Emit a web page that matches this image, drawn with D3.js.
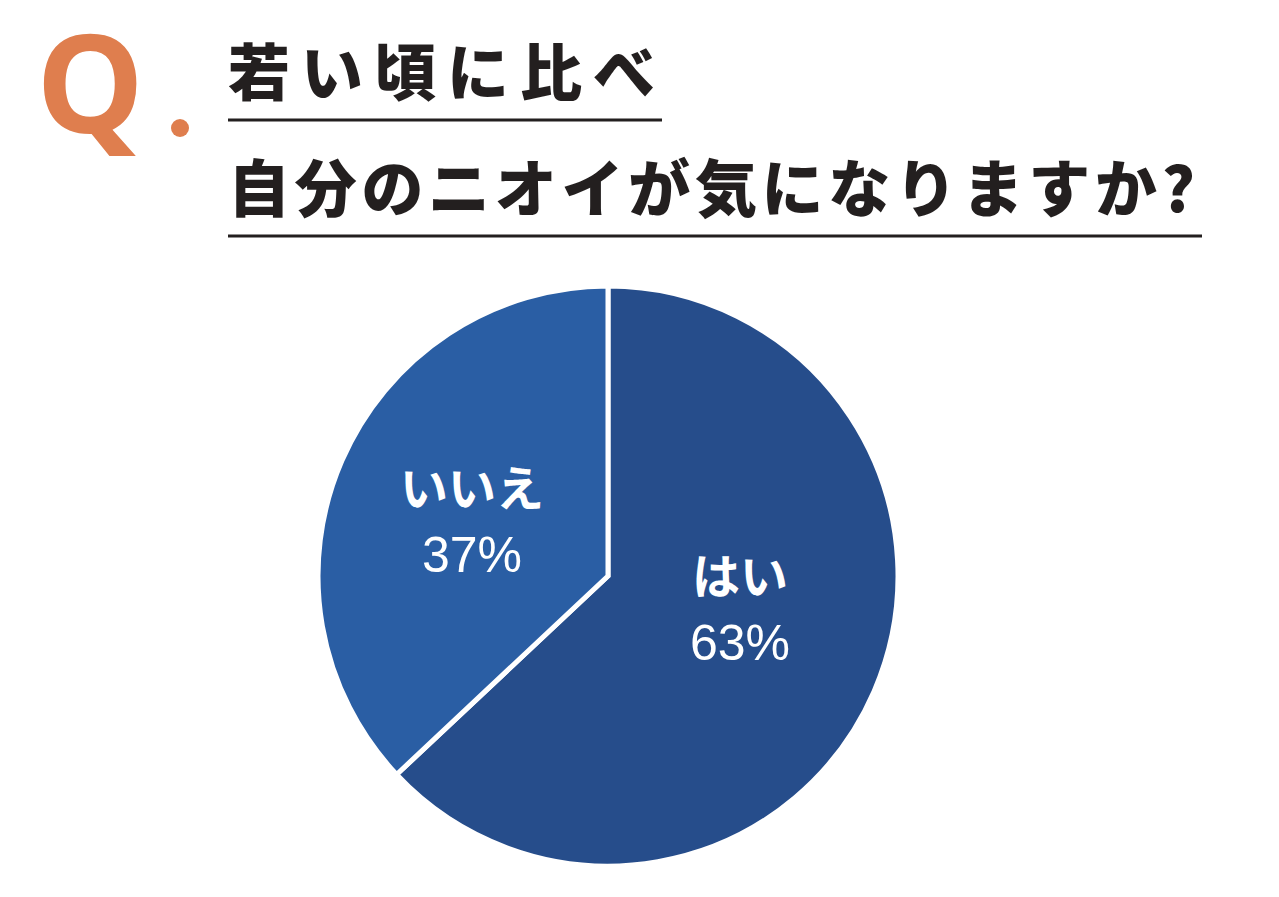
<!DOCTYPE html>
<html><head><meta charset="utf-8">
<script src="https://cdn.jsdelivr.net/npm/d3@7"></script>
<style>body{margin:0;background:#fff}</style>
</head><body>
<svg id="c" width="1279" height="897"></svg>
<script>
var labels = ['はい', 'いいえ'],
    values = [63, 37],
    colors = ['#264d8b', '#2a5ea4'],
    titleLines = ['若い頃に比べ', '自分のニオイが気になりますか?'];

var svg = d3.select('#c'),
    font = '"Noto Sans CJK JP", "Noto Sans", sans-serif';

// header
svg.append('text').attr('x', 36).attr('y', 133)
    .attr('font-family', '"Open Sans", sans-serif').attr('font-weight', 700).attr('font-size', 136)
    .attr('fill', '#df7e4e').text('Q');
svg.append('circle').attr('cx', 180).attr('cy', 128).attr('r', 9).attr('fill', '#df7e4e');

var lineEnds = [662, 1202];
titleLines.forEach(function (t, i) {
    svg.append('text').attr('x', 228).attr('y', 96 + i * 116)
        .attr('font-family', font).attr('font-weight', 900).attr('font-size', 62)
        .attr('letter-spacing', 3)
        .attr('textLength', i ? 970 : 430).attr('lengthAdjust', 'spacing')
        .attr('fill', '#231f1f').text(t);
    svg.append('line').attr('x1', 228).attr('x2', lineEnds[i])
        .attr('y1', 120 + i * 116).attr('y2', 120 + i * 116)
        .attr('stroke', '#231f1f').attr('stroke-width', 3);
});

// pie
var r = 290;
var g = svg.append('g').attr('transform', 'translate(608,576)');
var arcs = d3.pie().sort(null)(values);
var arc = d3.arc().innerRadius(0).outerRadius(r);

g.selectAll('path').data(arcs).enter().append('path')
    .attr('d', arc)
    .attr('fill', function (d, i) { return colors[i]; })
    .attr('stroke', '#fff').attr('stroke-width', 5).attr('stroke-linejoin', 'miter');

var labelPos = [[132, 18], [-136, -70]];
arcs.forEach(function (d, i) {
    var t = g.append('text').attr('text-anchor', 'middle')
        .attr('font-family', font).attr('font-weight', 700).attr('font-size', 48)
        .attr('fill', '#fff');
    t.append('tspan').attr('x', labelPos[i][0]).attr('y', labelPos[i][1]).text(labels[i]);
    t.append('tspan').attr('x', labelPos[i][0]).attr('y', labelPos[i][1] + 66)
        .attr('font-family', '"Liberation Sans", Arial, sans-serif').attr('font-weight', 400)
        .attr('font-size', 50).text(values[i] + '%');
});
</script>
</body></html>
